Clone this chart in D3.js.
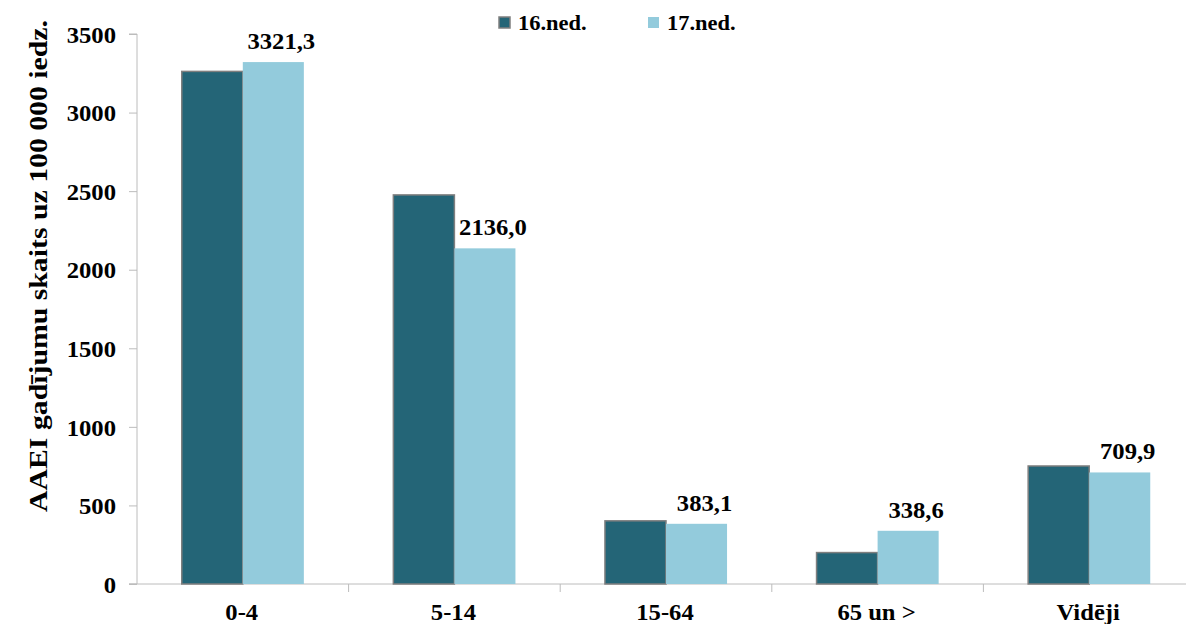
<!DOCTYPE html>
<html>
<head>
<meta charset="utf-8">
<script src="https://cdn.jsdelivr.net/npm/d3@7"></script>
<style>
  body { margin: 0; background: #fff; }
  text { font-family: "Liberation Serif", "Times New Roman", serif; font-weight: bold; fill: #000; }
</style>
</head>
<body>
<svg id="chart" width="1186" height="624"></svg>
<script>
// data
const categories = ["0-4", "5-14", "15-64", "65 un >", "Vidēji"];
const seriesNames = ["16.ned.", "17.ned."];
const week16 = [3262, 2476, 402, 200, 751];
const week17 = [3321.3, 2136.0, 383.1, 338.6, 709.9];
const yTicks = [0, 500, 1000, 1500, 2000, 2500, 3000, 3500];
const colors = ["#246577", "#93cbdc"];

const svg = d3.select("#chart");
const plotLeft = 137, plotRight = 1195, plotTop = 34, plotBottom = 584;

// the original text is a bit wider than the serif font gives
function widen(sel, k) {
  sel.each(function () {
    const w = this.getComputedTextLength();
    d3.select(this).attr("textLength", w * k).attr("lengthAdjust", "spacingAndGlyphs");
  });
}

const x0 = d3.scaleBand().domain(categories).range([plotLeft, plotRight]).padding(0);
const bw = x0.bandwidth();
const x1 = d3.scaleBand().domain(seriesNames).range([bw * 0.2115, bw * 0.7885]).padding(0);
const y = d3.scaleLinear().domain([0, 3500]).range([plotBottom, plotTop]);

// y axis
const yAxis = svg.append("g")
  .attr("transform", `translate(${plotLeft},0)`)
  .call(d3.axisLeft(y).tickValues(yTicks).tickSize(8).tickPadding(13).tickFormat(d3.format("d")));
yAxis.selectAll("path, line").attr("stroke", "#bcbcbc");
yAxis.select(".domain").attr("d", `M-8,${plotTop}H0V${plotBottom}H-8`);
yAxis.selectAll("text").style("font-size", "23.5px").attr("dy", "0.35em").call(widen, 1.05);

// x axis line and boundary ticks
const xg = svg.append("g");
xg.append("line").attr("x1", plotLeft - 8).attr("x2", 1186).attr("y1", plotBottom).attr("y2", plotBottom).attr("stroke", "#bcbcbc");
categories.forEach((c, i) => {
  const bx = x0(c);
  if (i > 0) {
    xg.append("line").attr("x1", bx).attr("x2", bx).attr("y1", plotBottom).attr("y2", plotBottom + 8).attr("stroke", "#bcbcbc");
  }
});
xg.selectAll("text.cat").data(categories).enter().append("text")
  .attr("class", "cat")
  .attr("x", d => x0(d) + bw / 2 - 1)
  .attr("y", 620)
  .attr("text-anchor", "middle")
  .style("font-size", "23px")
  .text(d => d)
  .call(widen, 1.07);

// bars
const rows = categories.map((c, i) => ({ cat: c, vals: [week16[i], week17[i]] }));
const groups = svg.selectAll("g.grp").data(rows).enter().append("g")
  .attr("class", "grp")
  .attr("transform", d => `translate(${x0(d.cat)},0)`);

groups.selectAll("rect").data(d => d.vals.map((v, j) => ({ s: seriesNames[j], v, j }))).enter().append("rect")
  .attr("x", d => x1(d.s))
  .attr("y", d => y(d.v))
  .attr("width", x1.bandwidth())
  .attr("height", d => y(0) - y(d.v))
  .attr("fill", d => colors[d.j])
  .attr("stroke", d => d.j === 0 ? "#7f7f7f" : "none")
  .attr("stroke-width", 1.5);

// data labels on 17.ned.
groups.append("text")
  .attr("x", x1(seriesNames[1]) + x1.bandwidth() / 2 + 8)
  .attr("y", d => y(d.vals[1]) - 13)
  .attr("text-anchor", "middle")
  .style("font-size", "23px")
  .text(d => d.vals[1].toFixed(1).replace(".", ","))
  .call(widen, 1.07);

// y title
svg.append("text")
  .attr("transform", "translate(47,266) rotate(-90)")
  .attr("text-anchor", "middle")
  .attr("textLength", 492)
  .attr("lengthAdjust", "spacingAndGlyphs")
  .style("font-size", "26px")
  .text("AAEI gadījumu skaits uz 100 000 iedz.");

// legend
const legX = [499, 648];
const lg = svg.append("g");
seriesNames.forEach((s, i) => {
  lg.append("rect").attr("x", legX[i]).attr("y", 17).attr("width", 11).attr("height", 11)
    .attr("fill", colors[i]).attr("stroke", i === 0 ? "#7f7f7f" : "none").attr("stroke-width", 1.5);
  lg.append("text").attr("x", legX[i] + 19).attr("y", 29.5).style("font-size", "21px").text(s).call(widen, 1.07);
});
</script>
</body>
</html>
